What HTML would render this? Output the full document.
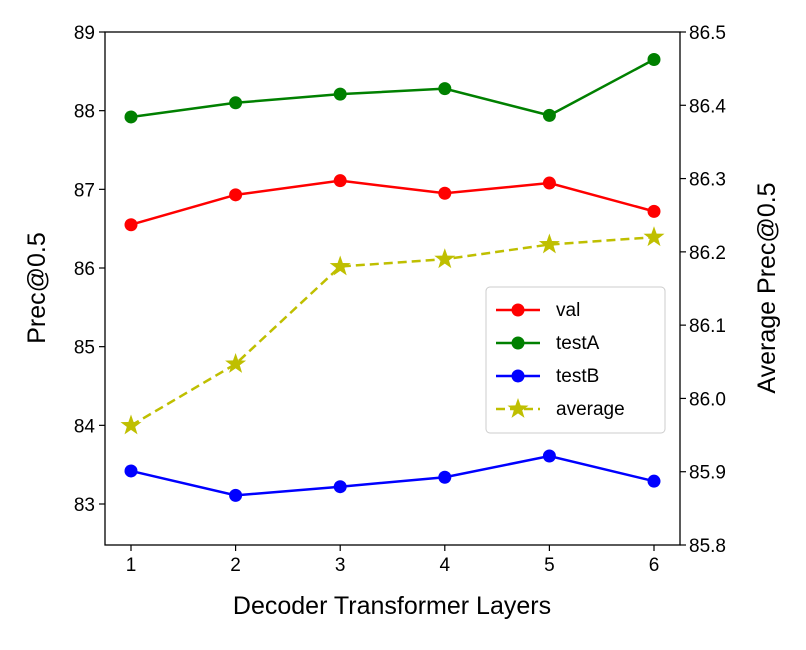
<!DOCTYPE html>
<html><head><meta charset="utf-8"><style>
body{margin:0;background:#fff;}
svg text{font-family:"Liberation Sans",Arial,sans-serif;fill:#000;}
</style></head><body>
<svg id="chart" width="806" height="645" xmlns="http://www.w3.org/2000/svg"></svg>
<script>
const categories=[1,2,3,4,5,6];
const valSeries=[86.55,86.93,87.11,86.95,87.08,86.72];
const testASeries=[87.92,88.10,88.21,88.28,87.94,88.65];
const testBSeries=[83.42,83.11,83.22,83.34,83.61,83.29];
const averageSeries=[85.963,86.047,86.18,86.19,86.21,86.22];
const leftTicks=[83,84,85,86,87,88,89];
const rightTicks=["85.8","85.9","86.0","86.1","86.2","86.3","86.4","86.5"];

const L=105,R=680,T=32,B=545;
const x=v=>131+(v-1)*(654-131)/5;
const yL=v=>T+(89-v)*(504-T)/6;
const yR=v=>T+(86.5-v)*(B-T)/0.7;
const svg=document.getElementById('chart');
const NS='http://www.w3.org/2000/svg';
function el(tag,attrs,parent){const e=document.createElementNS(NS,tag);for(const k in attrs)e.setAttribute(k,attrs[k]);(parent||svg).appendChild(e);return e;}

const frame=el('rect',{x:L,y:T,width:R-L,height:B-T,fill:'none',stroke:'#000','stroke-width':1.3});



categories.forEach(c=>{
  const g=el('g',{});
  
  
  el('line',{x1:x(c),x2:x(c),y1:B,y2:B+6,stroke:'#000','stroke-width':1.2},g);
  const t=el('text',{x:x(c),y:B+26,'text-anchor':'middle','font-size':19},g);t.textContent=c;
});
leftTicks.forEach(v=>{
  const g=el('g',{});
  
  
  el('line',{x1:L-6,x2:L,y1:yL(v),y2:yL(v),stroke:'#000','stroke-width':1.2},g);
  const t=el('text',{x:L-10,y:yL(v)+7,'text-anchor':'end','font-size':19},g);t.textContent=v;
});
rightTicks.forEach(v=>{
  const g=el('g',{});
  
  
  el('line',{x1:R,x2:R+6,y1:yR(+v),y2:yR(+v),stroke:'#000','stroke-width':1.2},g);
  const t=el('text',{x:R+9,y:yR(+v)+7,'text-anchor':'start','font-size':19},g);t.textContent=v;
});
let t=el('text',{x:392,y:614,'text-anchor':'middle','font-size':25});t.textContent='Decoder Transformer Layers';

t=el('text',{x:0,y:0,'text-anchor':'middle','font-size':25,transform:'translate(45,288) rotate(-90)'});t.textContent='Prec@0.5';

t=el('text',{x:0,y:0,'text-anchor':'middle','font-size':25,transform:'translate(775,288) rotate(-90)'});t.textContent='Average Prec@0.5';


function star(cx,cy,r){let p=[];for(let i=0;i<10;i++){const a=-Math.PI/2+i*Math.PI/5;const rr=i%2?r*0.4:r;p.push((cx+rr*Math.cos(a)).toFixed(1)+','+(cy+rr*Math.sin(a)).toFixed(1));}return p.join(' ');}
function series(name,data,yf,color,dash,marker){
  const g=el('g',{});
  
  
  const pts=data.map((v,i)=>x(categories[i])+','+yf(v)).join(' ');
  el('polyline',{points:pts,fill:'none',stroke:color,'stroke-width':2.5,'stroke-dasharray':dash||'none'},g);
  data.forEach((v,i)=>{
    let m;
    if(marker==='star')m=el('polygon',{points:star(x(categories[i]),yf(v),11),fill:color},g);
    else m=el('circle',{cx:x(categories[i]),cy:yf(v),r:6.5,fill:color},g);
    
    
  });
}
series('val',valSeries,yL,'#ff0000');
series('testA',testASeries,yL,'#008000');
series('testB',testBSeries,yL,'#0000ff');
series('average',averageSeries,yR,'#bfbf00','9,5','star');

const lg=el('g',{});


el('rect',{x:486,y:287,width:179,height:146,rx:4,fill:'#fff','fill-opacity':0.8,stroke:'#ccc'},lg);
[['val','#ff0000'],['testA','#008000'],['testB','#0000ff'],['average','#bfbf00']].forEach((e,i)=>{
  const y=310+i*33;
  const g=el('g',{},lg);
  
  
  el('line',{x1:496,x2:540,y1:y,y2:y,stroke:e[1],'stroke-width':2.5,'stroke-dasharray':i===3?'9,5':'none'},g);
  if(i===3)el('polygon',{points:star(518,y,11),fill:e[1]},g);
  else el('circle',{cx:518,cy:y,r:6.5,fill:e[1]},g);
  const tt=el('text',{x:556,y:y+6,'font-size':19},g);tt.textContent=e[0];
});
</script>
</body></html>
